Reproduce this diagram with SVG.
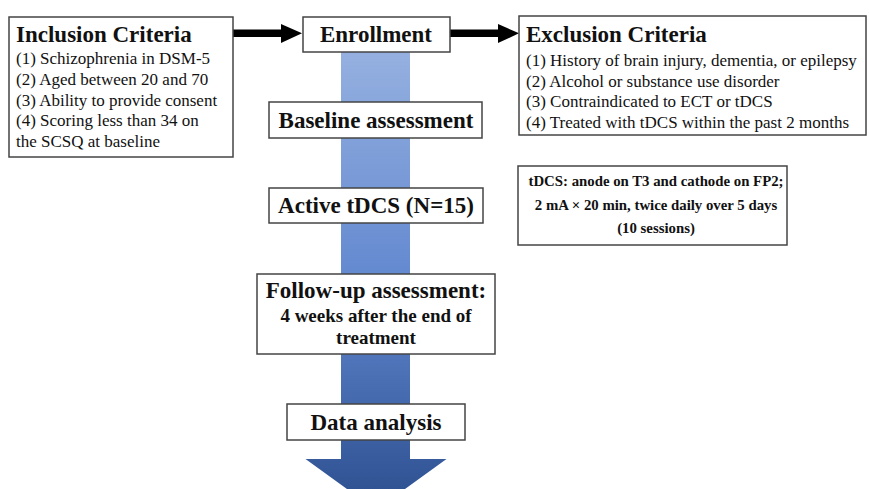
<svg xmlns="http://www.w3.org/2000/svg" width="869" height="489" viewBox="0 0 869 489">
<defs>
<linearGradient id="blue" gradientUnits="userSpaceOnUse" x1="0" y1="52" x2="0" y2="510">
<stop offset="0" stop-color="#95B0E0"/>
<stop offset="0.5" stop-color="#6288CF"/>
<stop offset="1" stop-color="#2B4E8E"/>
</linearGradient>
</defs>
<style>
.box{fill:#fff;stroke:#444;stroke-width:1.5}
.t{font-family:"Liberation Serif","Times New Roman",serif;fill:#111}
.b{font-weight:bold}
.h{font-size:23px;font-weight:bold}
.i{font-size:17px}
.c{text-anchor:middle}
</style>
<g id="connectors">
<polygon id="flow-arrow" points="341,52 410,52 410,459 446.5,459 376,510 305.5,459 341,459" fill="url(#blue)"/>
<rect x="233" y="29.5" width="50" height="7.5" fill="#000"/>
<polygon points="281,24 302,33.3 281,43" fill="#000"/>
<rect x="450" y="29.5" width="50" height="7.5" fill="#000"/>
<polygon points="498,24 519,33.3 498,43" fill="#000"/>
</g>
<g id="inclusion">
<rect class="box" x="9" y="17" width="224" height="140"/>
<text class="t h" x="16" y="42">Inclusion Criteria</text>
<text class="t i" x="16" y="64">(1) Schizophrenia in DSM-5</text>
<text class="t i" x="16" y="85">(2) Aged between 20 and 70</text>
<text class="t i" x="16" y="106">(3) Ability to provide consent</text>
<text class="t i" x="16" y="126">(4) Scoring less than 34 on</text>
<text class="t i" x="16" y="147">the SCSQ at baseline</text>
</g>
<g id="enrollment">
<rect class="box" x="303" y="17" width="147" height="35"/>
<text class="t h c" x="376" y="42">Enrollment</text>
</g>
<g id="exclusion">
<rect class="box" x="519" y="16" width="347" height="119"/>
<text class="t h" x="526" y="42">Exclusion Criteria</text>
<text class="t i" x="526" y="66">(1) History of brain injury, dementia, or epilepsy</text>
<text class="t i" x="526" y="87">(2) Alcohol or substance use disorder</text>
<text class="t i" x="526" y="107">(3) Contraindicated to ECT or tDCS</text>
<text class="t i" x="526" y="128">(4) Treated with tDCS within the past 2 months</text>
</g>
<g id="tdcs-protocol">
<rect class="box" x="518" y="166" width="269" height="79"/>
<text class="t b c" x="656" y="186" font-size="14.8">tDCS: anode on T3 and cathode on FP2;</text>
<text class="t b c" x="656" y="210" font-size="14.8">2 mA × 20 min, twice daily over 5 days</text>
<text class="t b c" x="656" y="233" font-size="14.8">(10 sessions)</text>
</g>
<g id="baseline">
<rect class="box" x="269" y="102" width="213" height="36"/>
<text class="t h c" x="376" y="128">Baseline assessment</text>
</g>
<g id="active">
<rect class="box" x="269" y="188" width="214" height="35"/>
<text class="t h c" x="376" y="213">Active tDCS (N=15)</text>
</g>
<g id="followup">
<rect class="box" x="257" y="274" width="238" height="80"/>
<text class="t h c" x="376" y="298">Follow-up assessment:</text>
<text class="t b c" x="376" y="322" font-size="19">4 weeks after the end of</text>
<text class="t b c" x="376" y="344" font-size="19">treatment</text>
</g>
<g id="data-analysis">
<rect class="box" x="287" y="404" width="178" height="36"/>
<text class="t h c" x="376" y="430">Data analysis</text>
</g>
</svg>
